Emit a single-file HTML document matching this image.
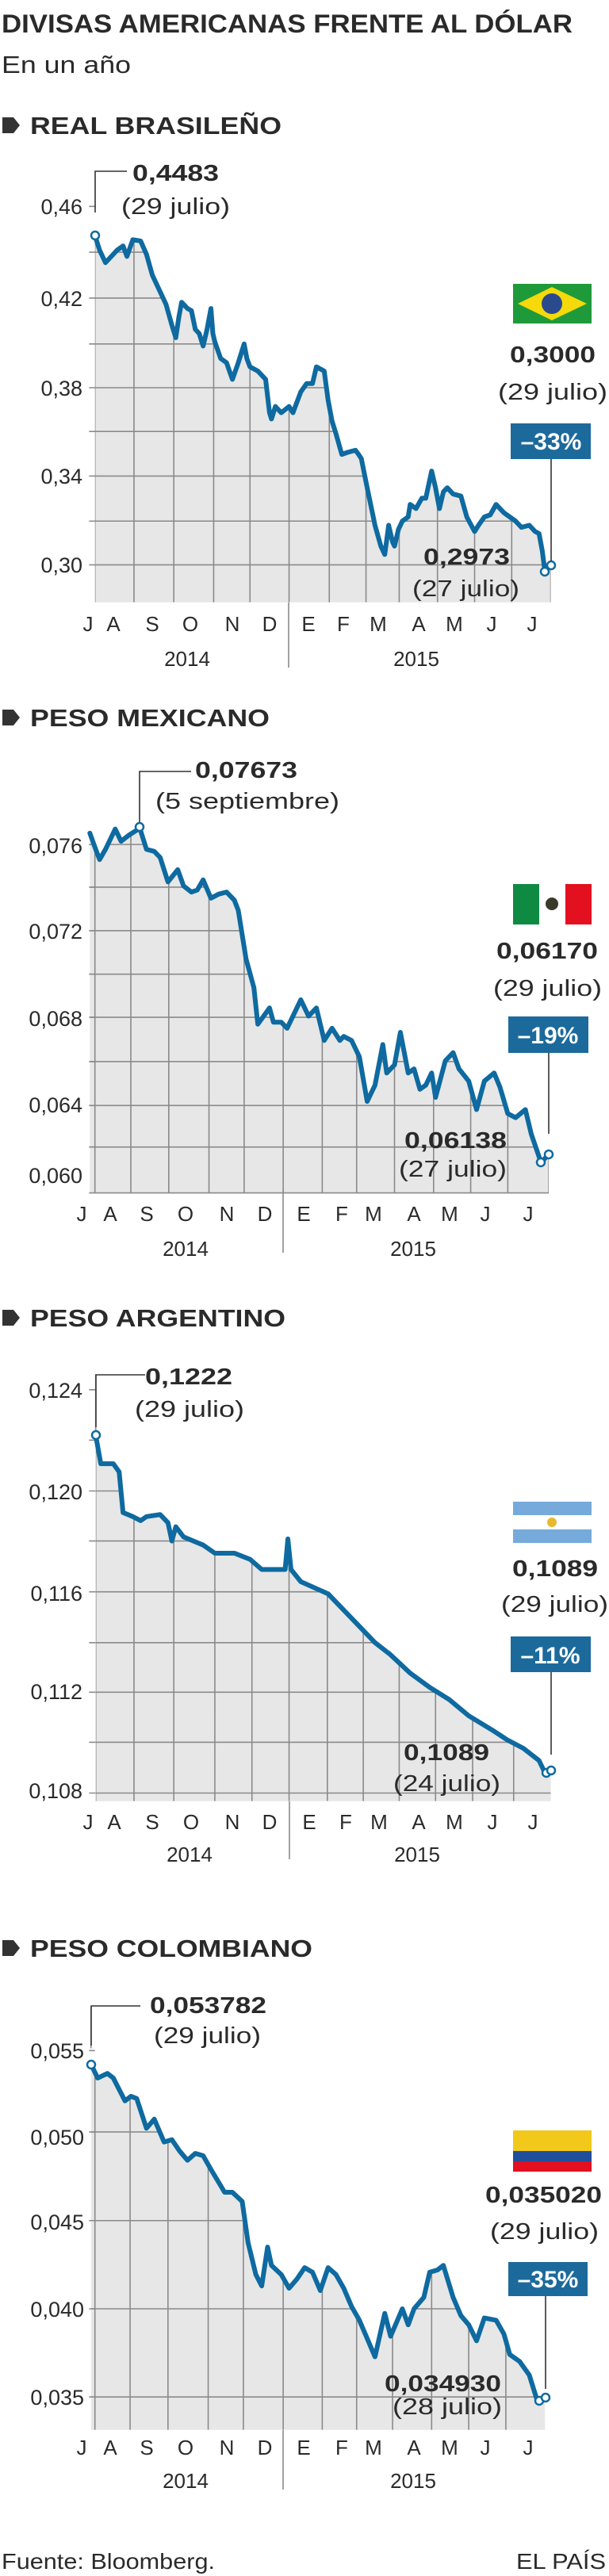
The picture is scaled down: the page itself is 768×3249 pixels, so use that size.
<!DOCTYPE html>
<html><head><meta charset="utf-8"><style>
html,body{margin:0;padding:0;background:#fff}
svg{display:block}
text{font-family:"Liberation Sans",Arial,sans-serif;fill:#2a2a2a}
.b{font-weight:bold}
.yl{font-size:27px;text-anchor:end}
.mo{font-size:26px;text-anchor:middle}
.an{font-size:29px}
.ln{fill:none;stroke:#0e6aa0;stroke-width:6;stroke-linejoin:round;stroke-linecap:round}
.ar{fill:#e7e7e7}
.gr{stroke:#8a8a8a;stroke-width:1.6;fill:none}
.ld{stroke:#333;stroke-width:1.6;fill:none}
.mk{fill:#fff;stroke:#0e6aa0;stroke-width:2.5}
.bx{fill:#1c6a9c}
.bt{fill:#fff;font-weight:bold;font-size:30px;text-anchor:middle}
.hd{font-weight:bold;font-size:31px}
</style></head><body>
<svg width="768" height="3249" viewBox="0 0 768 3249" xmlns="http://www.w3.org/2000/svg">
<defs>
<polygon id="p1" points="243,565 255,600 270,630 285,615 300,600 315,590 325,615 340,575 360,578 375,610 390,660 410,700 425,730 440,780 450,810 458,760 465,725 480,740 490,745 500,790 510,800 520,830 530,790 540,740 545,800 550,820 565,860 580,870 595,910 610,870 625,825 632,860 640,880 660,890 680,910 690,990 695,1005 705,975 720,990 740,975 750,990 770,940 785,920 800,920 810,880 830,890 840,960 850,1010 860,1040 875,1090 890,1085 910,1080 918,1090 925,1100 940,1170 960,1260 975,1310 985,1330 995,1260 1005,1300 1010,1310 1020,1270 1030,1250 1045,1240 1050,1210 1065,1220 1080,1195 1090,1195 1105,1130 1115,1170 1125,1220 1135,1180 1145,1170 1160,1185 1180,1190 1195,1240 1215,1275 1225,1260 1240,1240 1255,1235 1270,1210 1290,1230 1320,1250 1335,1265 1355,1260 1370,1275 1380,1280 1388,1320 1395,1370 1410,1355 1410,1445 243,1445"/>
<polygon id="p2" points="230,450 245,490 255,515 270,490 295,440 310,470 330,455 358,438 375,490 395,495 410,510 420,540 430,570 455,540 470,580 490,595 505,590 520,565 540,610 560,600 580,595 600,615 610,640 630,760 650,830 660,920 675,900 690,880 700,915 720,915 735,930 750,900 770,860 790,900 810,880 830,960 850,930 870,960 880,950 900,960 920,1000 940,1110 960,1070 980,970 990,1040 1010,1020 1025,940 1045,1040 1060,1030 1075,1080 1090,1070 1105,1040 1115,1100 1140,1010 1160,990 1175,1030 1200,1060 1220,1130 1240,1060 1265,1040 1280,1075 1300,1140 1320,1150 1345,1130 1360,1190 1385,1260 1405,1240 1405,1335 230,1335"/>
<polygon id="p3" points="245,410 258,480 290,480 305,500 315,600 340,610 360,620 375,610 410,605 430,625 440,670 450,635 470,660 520,680 550,700 600,700 640,715 670,740 730,740 737,665 745,740 770,770 840,800 870,830 920,880 960,920 1000,950 1050,995 1100,1030 1150,1060 1200,1100 1260,1135 1300,1160 1340,1180 1380,1210 1395,1240 1410,1235 1410,1310 245,1310"/>
<polygon id="p4" points="233,440 250,470 275,460 290,470 320,520 335,510 350,515 375,580 395,560 420,610 440,605 460,630 480,650 500,635 520,640 540,670 575,720 595,720 620,740 635,830 655,900 670,925 685,840 695,880 720,900 740,930 760,910 780,885 800,895 820,935 840,885 860,900 880,930 900,970 920,1000 945,1050 960,1080 985,985 1000,1035 1030,975 1045,1010 1060,975 1085,950 1100,895 1120,890 1135,880 1160,950 1180,990 1200,1010 1220,1045 1240,995 1270,1000 1290,1030 1305,1075 1330,1090 1355,1120 1375,1175 1395,1168 1395,1240 233,1240"/>
<clipPath id="c1"><use href="#p1"/></clipPath>
<clipPath id="c2"><use href="#p2"/></clipPath>
<clipPath id="c3"><use href="#p3"/></clipPath>
<clipPath id="c4"><use href="#p4"/></clipPath>
</defs>

<!-- Header -->
<text x="2" y="41" class="b" font-size="32" textLength="720" lengthAdjust="spacingAndGlyphs">DIVISAS AMERICANAS FRENTE AL DÓLAR</text>
<text x="2" y="92" font-size="31" textLength="163" lengthAdjust="spacingAndGlyphs">En un año</text>

<!-- ===== Chart 1 ===== -->
<path d="M3,148 h14 l8,10 l-8,10 h-14 z" fill="#333"/>
<text x="38" y="169" class="hd" textLength="317" lengthAdjust="spacingAndGlyphs">REAL BRASILEÑO</text>
<g transform="scale(0.4926,0.5258)">
<use href="#p1" class="ar"/>
<g clip-path="url(#c1)"><path class="gr" vector-effect="non-scaling-stroke" d="M230,495H1410M230,605H1410M230,715H1410M230,825H1410M230,930H1410M230,1035H1410M230,1142H1410M230,1250H1410M230,1355H1410M243,0V1445M343,0V1445M445,0V1445M547,0V1445M640,0V1445M740,0V1445M843,0V1445M937,0V1445M1022,0V1445M1120,0V1445M1215,0V1445M1310,0V1445M1410,0V1445"/></g>
<path class="gr" vector-effect="non-scaling-stroke" d="M228,495H245M228,605H245M228,715H245M228,825H245M228,930H245M228,1035H245M228,1142H245M228,1250H245M228,1355H245"/>
<polyline class="ln" vector-effect="non-scaling-stroke" points="243,565 255,600 270,630 285,615 300,600 315,590 325,615 340,575 360,578 375,610 390,660 410,700 425,730 440,780 450,810 458,760 465,725 480,740 490,745 500,790 510,800 520,830 530,790 540,740 545,800 550,820 565,860 580,870 595,910 610,870 625,825 632,860 640,880 660,890 680,910 690,990 695,1005 705,975 720,990 740,975 750,990 770,940 785,920 800,920 810,880 830,890 840,960 850,1010 860,1040 875,1090 890,1085 910,1080 918,1090 925,1100 940,1170 960,1260 975,1310 985,1330 995,1260 1005,1300 1010,1310 1020,1270 1030,1250 1045,1240 1050,1210 1065,1220 1080,1195 1090,1195 1105,1130 1115,1170 1125,1220 1135,1180 1145,1170 1160,1185 1180,1190 1195,1240 1215,1275 1225,1260 1240,1240 1255,1235 1270,1210 1290,1230 1320,1250 1335,1265 1355,1260 1370,1275 1380,1280 1388,1320 1395,1370 1410,1355"/>
</g>
<line x1="364" y1="760" x2="364" y2="842" class="gr"/>
<g class="yl"><text x="104" y="270">0,46</text><text x="104" y="386">0,42</text><text x="104" y="499">0,38</text><text x="104" y="610">0,34</text><text x="104" y="722">0,30</text></g>
<g class="mo"><text x="111" y="796">J</text><text x="143" y="796">A</text><text x="192" y="796">S</text><text x="240" y="796">O</text><text x="293" y="796">N</text><text x="340" y="796">D</text><text x="389" y="796">E</text><text x="433" y="796">F</text><text x="477" y="796">M</text><text x="528" y="796">A</text><text x="573" y="796">M</text><text x="620" y="796">J</text><text x="671" y="796">J</text>
<text x="236" y="840">2014</text><text x="525" y="840">2015</text></g>
<polyline class="ld" points="120,268 120,216 160,216"/>
<circle cx="120" cy="297" r="5" class="mk"/><circle cx="687" cy="721" r="5" class="mk"/><circle cx="695" cy="713" r="5" class="mk"/>
<text x="167" y="228" class="an b" textLength="109" lengthAdjust="spacingAndGlyphs">0,4483</text>
<text x="153" y="270" class="an" textLength="137" lengthAdjust="spacingAndGlyphs">(29 julio)</text>
<rect x="647" y="358" width="99" height="50" fill="#1e9a3a"/>
<polygon points="653,383 696,362 740,383 696,404" fill="#f5d90a"/>
<circle cx="696" cy="383" r="13" fill="#2a4a8e"/>
<text x="643" y="457" class="an b" textLength="108" lengthAdjust="spacingAndGlyphs">0,3000</text>
<text x="628" y="504" class="an" textLength="138" lengthAdjust="spacingAndGlyphs">(29 julio)</text>
<rect x="644" y="534" width="101" height="45" class="bx"/>
<text x="695" y="567" class="bt">–33%</text>
<line x1="695" y1="579" x2="695" y2="708" class="ld"/>
<text x="534" y="712" class="an b" textLength="109" lengthAdjust="spacingAndGlyphs">0,2973</text>
<text x="520" y="752" class="an" textLength="135" lengthAdjust="spacingAndGlyphs">(27 julio)</text>

<!-- ===== Chart 2 ===== -->
<path d="M3,895 h14 l8,10 l-8,10 h-14 z" fill="#333"/>
<text x="38" y="916" class="hd" textLength="302" lengthAdjust="spacingAndGlyphs">PESO MEXICANO</text>
<g transform="translate(0,820) scale(0.4926,0.5128)">
<use href="#p2" class="ar"/>
<g clip-path="url(#c2)"><path class="gr" vector-effect="non-scaling-stroke" d="M230,478H1405M230,583H1405M230,690H1405M230,797H1405M230,903H1405M230,1012H1405M230,1120H1405M230,1222H1405M243,0V1335M335,0V1335M432,0V1335M535,0V1335M625,0V1335M725,0V1335M825,0V1335M913,0V1335M1010,0V1335M1110,0V1335M1205,0V1335M1300,0V1335M1405,0V1335"/></g>
<path class="gr" vector-effect="non-scaling-stroke" d="M228,478H245M228,583H245M228,690H245M228,797H245M228,903H245M228,1012H245M228,1120H245M228,1222H245M228,1335H1405"/>
<polyline class="ln" vector-effect="non-scaling-stroke" points="230,450 245,490 255,515 270,490 295,440 310,470 330,455 358,438 375,490 395,495 410,510 420,540 430,570 455,540 470,580 490,595 505,590 520,565 540,610 560,600 580,595 600,615 610,640 630,760 650,830 660,920 675,900 690,880 700,915 720,915 735,930 750,900 770,860 790,900 810,880 830,960 850,930 870,960 880,950 900,960 920,1000 940,1110 960,1070 980,970 990,1040 1010,1020 1025,940 1045,1040 1060,1030 1075,1080 1090,1070 1105,1040 1115,1100 1140,1010 1160,990 1175,1030 1200,1060 1220,1130 1240,1060 1265,1040 1280,1075 1300,1140 1320,1150 1345,1130 1360,1190 1385,1260 1405,1240"/>
</g>
<line x1="357" y1="1502" x2="357" y2="1580" class="gr"/>
<g class="yl"><text x="104" y="1076">0,076</text><text x="104" y="1184">0,072</text><text x="104" y="1294">0,068</text><text x="104" y="1403">0,064</text><text x="104" y="1492">0,060</text></g>
<g class="mo"><text x="103" y="1540">J</text><text x="139" y="1540">A</text><text x="185" y="1540">S</text><text x="234" y="1540">O</text><text x="286" y="1540">N</text><text x="334" y="1540">D</text><text x="383" y="1540">E</text><text x="431" y="1540">F</text><text x="471" y="1540">M</text><text x="522" y="1540">A</text><text x="567" y="1540">M</text><text x="612" y="1540">J</text><text x="666" y="1540">J</text>
<text x="234" y="1584">2014</text><text x="521" y="1584">2015</text></g>
<polyline class="ld" points="176,1038 176,973 241,973"/>
<circle cx="176" cy="1043" r="5" class="mk"/><circle cx="682" cy="1466" r="5" class="mk"/><circle cx="692" cy="1456" r="5" class="mk"/>
<text x="246" y="981" class="an b" textLength="129" lengthAdjust="spacingAndGlyphs">0,07673</text>
<text x="196" y="1020" class="an" textLength="232" lengthAdjust="spacingAndGlyphs">(5 septiembre)</text>
<rect x="647" y="1115" width="33" height="51" fill="#0f8a43"/>
<rect x="680" y="1115" width="33" height="51" fill="#fff"/>
<rect x="713" y="1115" width="33" height="51" fill="#e3101f"/>
<circle cx="696" cy="1140" r="8" fill="#3a3a2a"/>
<text x="626" y="1209" class="an b" textLength="128" lengthAdjust="spacingAndGlyphs">0,06170</text>
<text x="622" y="1256" class="an" textLength="137" lengthAdjust="spacingAndGlyphs">(29 julio)</text>
<rect x="641" y="1282" width="101" height="46" class="bx"/>
<text x="691" y="1316" class="bt">–19%</text>
<line x1="692" y1="1328" x2="692" y2="1430" class="ld"/>
<text x="510" y="1448" class="an b" textLength="129" lengthAdjust="spacingAndGlyphs">0,06138</text>
<text x="503" y="1484" class="an" textLength="136" lengthAdjust="spacingAndGlyphs">(27 julio)</text>

<!-- ===== Chart 3 ===== -->
<path d="M3,1652 h14 l8,10 l-8,10 h-14 z" fill="#333"/>
<text x="38" y="1673" class="hd" textLength="322" lengthAdjust="spacingAndGlyphs">PESO ARGENTINO</text>
<g transform="translate(0,1600) scale(0.4926,0.5128)">
<use href="#p3" class="ar"/>
<g clip-path="url(#c3)"><path class="gr" vector-effect="non-scaling-stroke" d="M230,422H1410M230,547H1410M230,670H1410M230,795H1410M230,920H1410M230,1042H1410M230,1165H1410M230,1290H1410M245,0V1310M343,0V1310M445,0V1310M550,0V1310M645,0V1310M740,0V1310M838,0V1310M930,0V1310M1022,0V1310M1115,0V1310M1210,0V1310M1315,0V1310M1415,0V1310"/></g>
<path class="gr" vector-effect="non-scaling-stroke" d="M228,298H245M228,422H245M228,547H245M228,670H245M228,795H245M228,920H245M228,1042H245M228,1165H245M228,1290H245M245,260V420"/>
<polyline class="ln" vector-effect="non-scaling-stroke" points="245,410 258,480 290,480 305,500 315,600 340,610 360,620 375,610 410,605 430,625 440,670 450,635 470,660 520,680 550,700 600,700 640,715 670,740 730,740 737,665 745,740 770,770 840,800 870,830 920,880 960,920 1000,950 1050,995 1100,1030 1150,1060 1200,1100 1260,1135 1300,1160 1340,1180 1380,1210 1395,1240 1410,1235"/>
</g>
<line x1="365" y1="2272" x2="365" y2="2345" class="gr"/>
<g class="yl"><text x="104" y="1763">0,124</text><text x="104" y="1891">0,120</text><text x="104" y="2019">0,116</text><text x="104" y="2143">0,112</text><text x="104" y="2268">0,108</text></g>
<g class="mo"><text x="111" y="2307">J</text><text x="144" y="2307">A</text><text x="192" y="2307">S</text><text x="241" y="2307">O</text><text x="293" y="2307">N</text><text x="340" y="2307">D</text><text x="390" y="2307">E</text><text x="436" y="2307">F</text><text x="478" y="2307">M</text><text x="528" y="2307">A</text><text x="573" y="2307">M</text><text x="621" y="2307">J</text><text x="672" y="2307">J</text>
<text x="239" y="2348">2014</text><text x="526" y="2348">2015</text></g>
<polyline class="ld" points="121,1800 121,1734 183,1734"/>
<circle cx="121" cy="1810" r="5" class="mk"/><circle cx="689" cy="2236" r="5" class="mk"/><circle cx="695" cy="2233" r="5" class="mk"/>
<text x="183" y="1746" class="an b" textLength="110" lengthAdjust="spacingAndGlyphs">0,1222</text>
<text x="170" y="1787" class="an" textLength="138" lengthAdjust="spacingAndGlyphs">(29 julio)</text>
<rect x="647" y="1894" width="99" height="52" fill="#75aadb"/>
<rect x="647" y="1911" width="99" height="18" fill="#fff"/>
<circle cx="696" cy="1920" r="6" fill="#e8b830"/>
<text x="646" y="1988" class="an b" textLength="108" lengthAdjust="spacingAndGlyphs">0,1089</text>
<text x="632" y="2033" class="an" textLength="135" lengthAdjust="spacingAndGlyphs">(29 julio)</text>
<rect x="644" y="2064" width="101" height="45" class="bx"/>
<text x="694" y="2098" class="bt">–11%</text>
<line x1="695" y1="2109" x2="695" y2="2213" class="ld"/>
<text x="509" y="2220" class="an b" textLength="108" lengthAdjust="spacingAndGlyphs">0,1089</text>
<text x="496" y="2259" class="an" textLength="135" lengthAdjust="spacingAndGlyphs">(24 julio)</text>

<!-- ===== Chart 4 ===== -->
<path d="M3,2447 h14 l8,10 l-8,10 h-14 z" fill="#333"/>
<text x="38" y="2468" class="hd" textLength="356" lengthAdjust="spacingAndGlyphs">PESO COLOMBIANO</text>
<g transform="translate(0,2350) scale(0.4926,0.5764)">
<use href="#p4" class="ar"/>
<g clip-path="url(#c4)"><path class="gr" vector-effect="non-scaling-stroke" d="M230,588H1397M230,782H1397M230,975H1397M230,1168H1397M243,0V1240M333,0V1240M430,0V1240M533,0V1240M623,0V1240M725,0V1240M825,0V1240M913,0V1240M1005,0V1240M1105,0V1240M1200,0V1240M1295,0V1240M1397,0V1240"/></g>
<path class="gr" vector-effect="non-scaling-stroke" d="M228,410H243M228,588H243M228,782H243M228,975H243M228,1168H243M233,315V405"/>
<polyline class="ln" vector-effect="non-scaling-stroke" points="233,440 250,470 275,460 290,470 320,520 335,510 350,515 375,580 395,560 420,610 440,605 460,630 480,650 500,635 520,640 540,670 575,720 595,720 620,740 635,830 655,900 670,925 685,840 695,880 720,900 740,930 760,910 780,885 800,895 820,935 840,885 860,900 880,930 900,970 920,1000 945,1050 960,1080 985,985 1000,1035 1030,975 1045,1010 1060,975 1085,950 1100,895 1120,890 1135,880 1160,950 1180,990 1200,1010 1220,1045 1240,995 1270,1000 1290,1030 1305,1075 1330,1090 1355,1120 1375,1175 1395,1168"/>
</g>
<line x1="357" y1="3065" x2="357" y2="3140" class="gr"/>
<g class="yl"><text x="106" y="2596">0,055</text><text x="106" y="2705">0,050</text><text x="106" y="2812">0,045</text><text x="106" y="2922">0,040</text><text x="106" y="3033">0,035</text></g>
<g class="mo"><text x="103" y="3096">J</text><text x="139" y="3096">A</text><text x="185" y="3096">S</text><text x="234" y="3096">O</text><text x="286" y="3096">N</text><text x="334" y="3096">D</text><text x="383" y="3096">E</text><text x="431" y="3096">F</text><text x="471" y="3096">M</text><text x="522" y="3096">A</text><text x="567" y="3096">M</text><text x="612" y="3096">J</text><text x="666" y="3096">J</text>
<text x="234" y="3138">2014</text><text x="521" y="3138">2015</text></g>
<polyline class="ld" points="115,2580 115,2530 177,2530"/>
<circle cx="115" cy="2604" r="5" class="mk"/><circle cx="680" cy="3028" r="5" class="mk"/><circle cx="688" cy="3024" r="5" class="mk"/>
<text x="189" y="2539" class="an b" textLength="147" lengthAdjust="spacingAndGlyphs">0,053782</text>
<text x="194" y="2577" class="an" textLength="135" lengthAdjust="spacingAndGlyphs">(29 julio)</text>
<rect x="647" y="2687" width="99" height="26" fill="#f2c81a"/>
<rect x="647" y="2713" width="99" height="13" fill="#1f4f9a"/>
<rect x="647" y="2726" width="99" height="13" fill="#e3101f"/>
<text x="612" y="2778" class="an b" textLength="147" lengthAdjust="spacingAndGlyphs">0,035020</text>
<text x="618" y="2824" class="an" textLength="137" lengthAdjust="spacingAndGlyphs">(29 julio)</text>
<rect x="641" y="2853" width="100" height="43" class="bx"/>
<text x="691" y="2885" class="bt">–35%</text>
<line x1="688" y1="2896" x2="688" y2="3013" class="ld"/>
<text x="485" y="3016" class="an b" textLength="147" lengthAdjust="spacingAndGlyphs">0,034930</text>
<text x="495" y="3045" class="an" textLength="138" lengthAdjust="spacingAndGlyphs">(28 julio)</text>

<!-- Footer -->
<text x="2" y="3240" font-size="28" textLength="269" lengthAdjust="spacingAndGlyphs">Fuente: Bloomberg.</text>
<text x="764" y="3240" font-size="28" text-anchor="end" textLength="113" lengthAdjust="spacingAndGlyphs">EL PAÍS</text>
</svg>
</body></html>
